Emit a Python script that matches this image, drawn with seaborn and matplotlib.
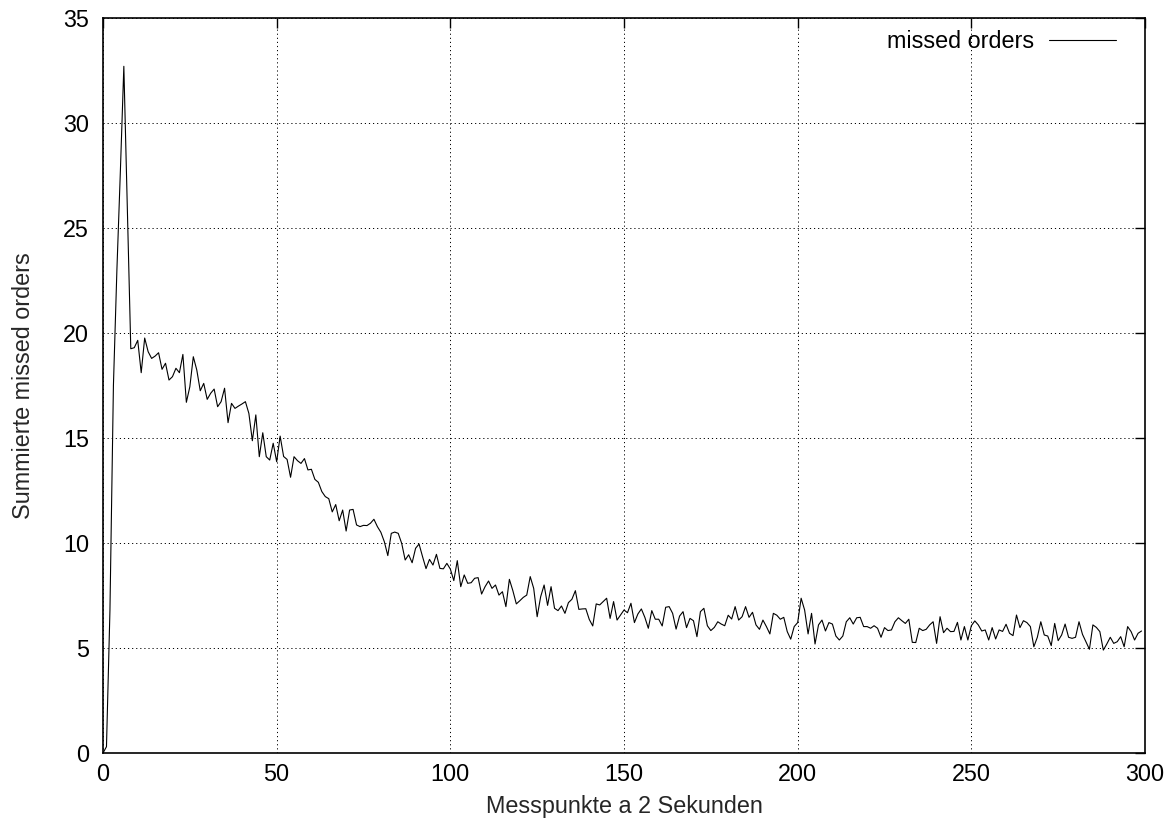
import numpy as np
import pandas as pd
import matplotlib
matplotlib.use("Agg")
import matplotlib.pyplot as plt
import seaborn as sns

# Summed missed orders per measurement point (one point every 2 seconds)
missed_orders = [
    0.0, 0.3, 6.8, 17.5, 23.0, 27.7, 32.7, 26.0, 19.25, 19.3,
    19.65, 18.11, 19.76, 19.11, 18.79, 18.9, 19.06, 18.27, 18.56, 17.76,
    17.92, 18.32, 18.11, 18.98, 16.70, 17.44, 18.87, 18.24, 17.25, 17.60,
    16.84, 17.13, 17.33, 16.49, 16.73, 17.37, 15.73, 16.65, 16.41, 16.52,
    16.62, 16.73, 16.17, 14.87, 16.10, 14.11, 15.25, 14.11, 13.95, 14.75,
    13.87, 15.09, 14.12, 13.98, 13.13, 14.11, 13.92, 13.79, 14.02, 13.48,
    13.51, 13.03, 12.89, 12.45, 12.21, 12.11, 11.48, 11.83, 11.06, 11.57,
    10.57, 11.57, 11.60, 10.86, 10.78, 10.84, 10.83, 10.94, 11.13, 10.78,
    10.51, 10.06, 9.40, 10.46, 10.52, 10.46, 9.98, 9.19, 9.44, 9.06,
    9.75, 9.95, 9.35, 8.78, 9.22, 8.95, 9.46, 8.79, 8.77, 9.03,
    8.76, 8.21, 9.16, 7.92, 8.48, 8.08, 8.11, 8.32, 8.35, 7.57,
    7.92, 8.19, 7.84, 8.00, 7.52, 7.68, 6.97, 8.27, 7.73, 7.10,
    7.25, 7.41, 7.52, 8.40, 7.84, 6.49, 7.44, 8.00, 7.03, 7.92,
    6.89, 6.78, 7.00, 6.65, 7.16, 7.32, 7.73, 6.84, 6.86, 6.87,
    6.36, 6.05, 7.10, 7.05, 7.21, 7.37, 6.41, 7.21, 6.33, 6.57,
    6.81, 6.68, 7.13, 6.21, 6.62, 6.86, 6.46, 5.94, 6.78, 6.37,
    6.37, 6.05, 6.94, 6.97, 6.65, 5.90, 6.52, 6.73, 5.97, 6.41,
    6.30, 5.54, 6.73, 6.89, 6.06, 5.83, 5.98, 6.25, 6.14, 6.06,
    6.56, 6.38, 6.97, 6.33, 6.49, 6.97, 6.46, 6.70, 6.10, 5.89,
    6.33, 6.02, 5.67, 6.65, 6.56, 6.37, 6.46, 5.78, 5.42, 6.02,
    6.21, 7.37, 6.81, 5.67, 6.65, 5.19, 6.10, 6.33, 5.81, 6.21,
    6.14, 5.57, 5.38, 5.57, 6.25, 6.44, 6.14, 6.44, 6.46, 6.02,
    6.02, 5.94, 6.06, 5.94, 5.51, 5.97, 5.83, 5.86, 6.25, 6.44,
    6.30, 6.17, 6.37, 5.27, 5.26, 5.94, 5.83, 5.89, 6.10, 6.25,
    5.22, 6.49, 5.73, 5.94, 5.78, 5.79, 6.22, 5.38, 6.02, 5.38,
    6.06, 6.29, 6.10, 5.81, 5.86, 5.38, 5.97, 5.43, 5.86, 5.79,
    6.13, 5.70, 5.59, 6.57, 5.97, 6.30, 6.21, 6.02, 5.06, 5.51,
    6.25, 5.62, 5.57, 5.11, 6.17, 5.35, 5.62, 6.14, 5.51, 5.46,
    5.51, 6.25, 5.65, 5.30, 4.94, 6.10, 5.98, 5.78, 4.90, 5.19,
    5.51, 5.22, 5.30, 5.54, 5.06, 6.02, 5.78, 5.38, 5.70, 5.81,
]
messpunkte = np.arange(len(missed_orders))

x_ticks = [0, 50, 100, 150, 200, 250, 300]
y_ticks = [0, 5, 10, 15, 20, 25, 30, 35]
series_label = "missed orders"
x_label = "Messpunkte a 2 Sekunden"
y_label = "Summierte missed orders"

df = pd.DataFrame({"x": messpunkte, "y": missed_orders})

FS = 16.8
sns.set_style("white")
plt.rcParams["font.family"] = ["Liberation Sans", "DejaVu Sans"]
plt.rcParams["font.size"] = FS

fig = plt.figure(figsize=(11.76, 8.26), dpi=100)
ax = fig.add_axes([103 / 1176, 1 - 753 / 826, (1145 - 103) / 1176, (753 - 18) / 826])

sns.lineplot(data=df, x="x", y="y", ax=ax, color="black", linewidth=0.8,
             label=series_label)

ax.set_xlim(0, 300)
ax.set_ylim(0, 35)
ax.set_xticks(x_ticks)
ax.set_yticks(y_ticks)
ax.set_xlabel(x_label, fontsize=FS, labelpad=7)
ax.set_ylabel(y_label, fontsize=FS, labelpad=20)

ax.grid(True, color="black", linestyle=(0, (1.2, 3.0)), linewidth=0.7)
ax.set_axisbelow(True)
for side in ax.spines.values():
    side.set_color("black")
    side.set_linewidth(1.2)

ax.tick_params(axis="both", which="major", direction="in", length=7, width=1.0,
               top=True, right=True, labelsize=FS, colors="black")
ax.tick_params(axis="x", pad=7)
ax.tick_params(axis="y", pad=10)

leg = ax.legend(loc="upper right", bbox_to_anchor=(0.9866, 1.004),
                frameon=False, markerfirst=False,
                handlelength=2.85, fontsize=FS, borderaxespad=0.25,
                handletextpad=0.65)
for t in leg.get_texts():
    t.set_color("black")

fig.savefig("out.png", dpi=100)
